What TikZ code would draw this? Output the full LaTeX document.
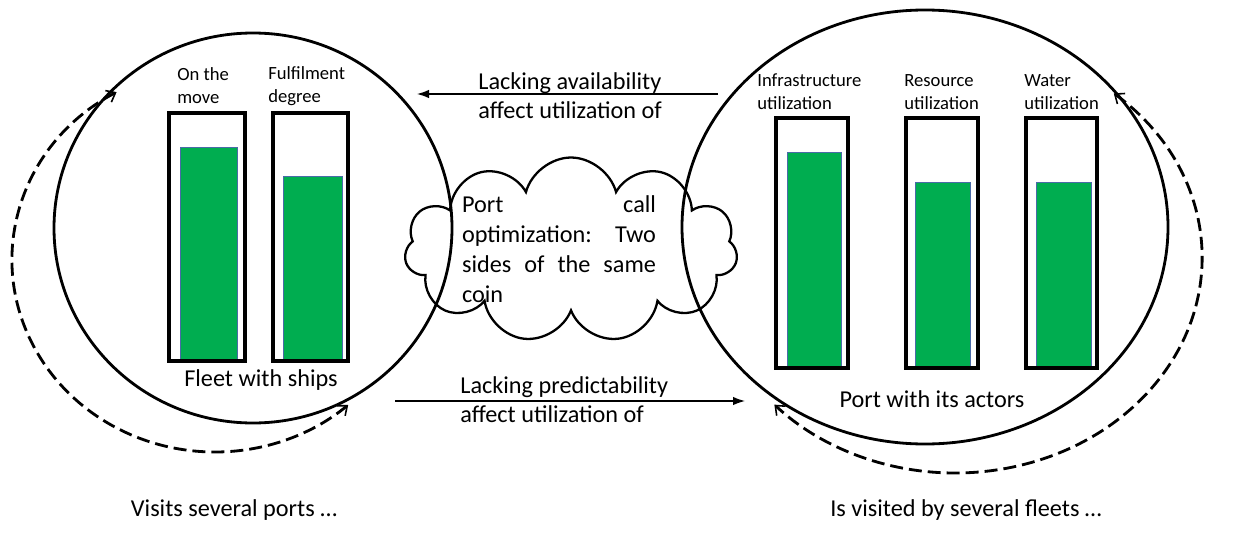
\documentclass[tikz,border=0pt]{standalone}
\usepackage{fontspec}
\setmainfont{Carlito}
\usetikzlibrary{shapes.symbols,arrows.meta}

\definecolor{gaugegreen}{HTML}{00AD50}
\definecolor{gaugeedge}{HTML}{4A6BA8}

\tikzset{
  ring/.style={line width=1.6pt},
  orbit/.style={line width=1.6pt, dash pattern=on 0.26cm off 0.12cm,
    {Straight Barb[length=1.6mm,width=2.6mm,line width=0.9pt]}-{Straight Barb[length=1.6mm,width=2.6mm,line width=0.9pt]}},
  gaugebox/.style={line width=1.9pt},
  gaugefill/.style={fill=gaugegreen, draw=gaugeedge, line width=0.5pt},
  flow/.style={line width=0.7pt, -{Latex[length=2.4mm,width=1.7mm]}},
  labeltxt/.style={font=\fontsize{10.6}{13}\selectfont, align=left, inner sep=0},
  bigtxt/.style={font=\fontsize{13.8}{16.5}\selectfont, inner sep=0},
}

\begin{document}
\begin{tikzpicture}[x=0.02cm,y=-0.02cm]

\useasboundingbox (0,0) rectangle (1233,544);

%draw the fleet side
\coordinate (fleetc) at (253,228);
\coordinate (fleeto) at (215,260);
\draw [ring] (fleetc) ellipse [x radius=199, y radius=195];
\draw [orbit] (fleeto) ++(241:203 and 192) arc [start angle=241, end angle=49, x radius=203, y radius=192];

\filldraw[gaugefill] (180,147) rectangle (237,361);
\draw[gaugebox] (169,113) rectangle (245,361);
\filldraw[gaugefill] (283,176) rectangle (342,361);
\draw[gaugebox] (273,113) rectangle (348,361);

\node [labeltxt, anchor=west] (onmove) at (177,86) {On the\\move};
\node [labeltxt, anchor=west] (fulfil) at (268,86) {Fulfilment\\degree};
\node [bigtxt] (fleet) at (261,380) {Fleet with ships};
\node [bigtxt] (visits) at (234,510) {Visits several ports …};

%draw the port side
\coordinate (portc) at (925,227);
\coordinate (porto) at (955,258);
\draw [ring] (portc) ellipse [x radius=243, y radius=217];
\draw [orbit] (porto) ++(310:247 and 215) arc [start angle=310, end angle=497, x radius=247, y radius=215];

\filldraw[gaugefill] (787,152) rectangle (841,368);
\draw[gaugebox] (776,118) rectangle (848,368);
\filldraw[gaugefill] (915,182) rectangle (970,368);
\draw[gaugebox] (906,118) rectangle (978,368);
\filldraw[gaugefill] (1036,182) rectangle (1091,368);
\draw[gaugebox] (1026,118) rectangle (1097,368);

\node [labeltxt, anchor=west] (infra) at (757,92) {Infrastructure\\utilization};
\node [labeltxt, anchor=west] (resource) at (904,92) {Resource\\utilization};
\node [labeltxt, anchor=west] (water) at (1024,92) {Water\\utilization};
\node [bigtxt] (port) at (932,399) {Port with its actors};
\node [bigtxt] (visited) at (966,510) {Is visited by several fleets …};

%draw the cloud in the middle
\node [cloud, draw, line width=1.3pt, cloud puffs=11, cloud ignores aspect, minimum width=6.66cm, minimum height=3.7cm, inner sep=0] (cloud) at (571,250) {};
\node [bigtxt, font=\fontsize{13.8}{17}\selectfont, text width=3.88cm, align=left] (coin) at (559,249) {Port\hfill call\\optimization:\hfill Two\\sides\hfill of\hfill the\hfill same\\coin};

%draw the two flows
\node [bigtxt, align=left, anchor=west] (avail) at (478,96) {Lacking availability\\affect utilization of};
\node [bigtxt, align=left, anchor=west] (predict) at (460,400) {Lacking predictability\\affect utilization of};

\coordinate (availstart) at (718,94);
\coordinate (availend) at (417,94);
\coordinate (predictstart) at (395,401);
\coordinate (predictend) at (745,401);
\draw [flow] (availstart) -- (availend);
\draw [flow] (predictstart) -- (predictend);

\end{tikzpicture}
\end{document}
